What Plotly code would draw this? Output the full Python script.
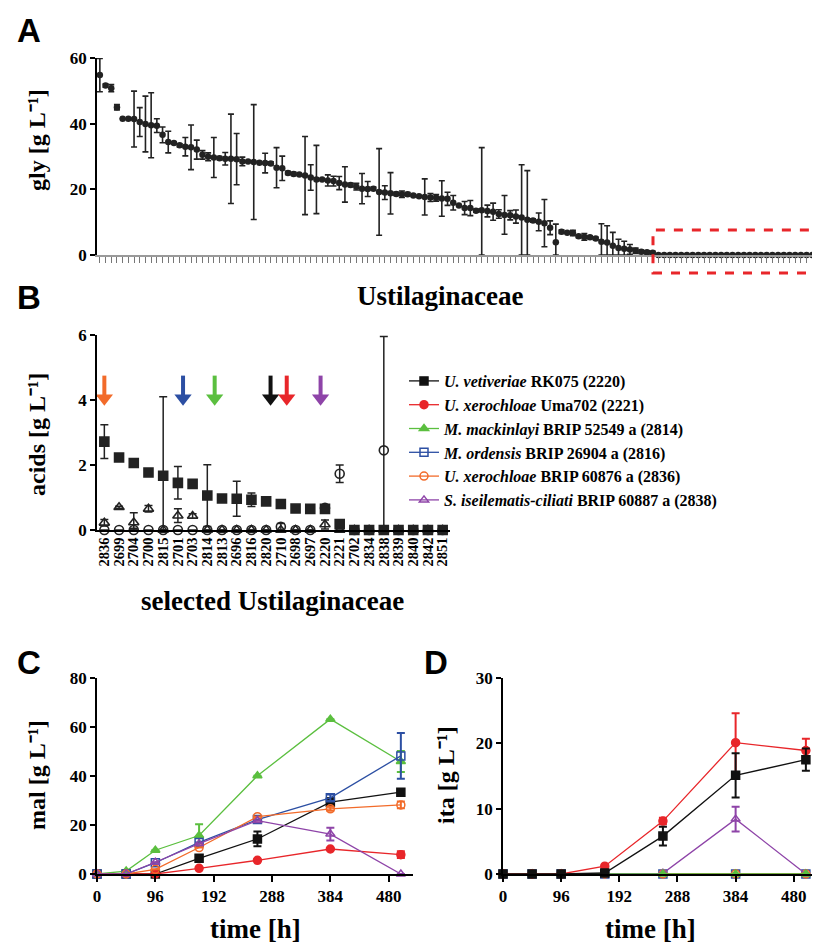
import plotly.graph_objects as go

# page body adds an 8px offset; the figure fills the rest of the 820x949 window
OFF = 8
W, H = 820 - OFF, 949 - OFF

# ---------------- Panel A: glycerol of all Ustilaginaceae ----------------
gly = [54.8, 51.6, 50.8, 45.0, 41.5, 41.5, 41.4, 40.5, 39.9, 39.5,
       39.4, 36.6, 34.4, 34.1, 33.4, 33.0, 32.8, 32.1, 30.5, 29.9,
       29.7, 29.5, 29.3, 29.3, 29.2, 28.5, 28.5, 28.3, 28.1, 28.0,
       27.9, 26.6, 26.4, 25.0, 24.7, 24.5, 24.2, 23.6, 23.0, 23.0,
       22.7, 22.5, 21.9, 21.5, 21.3, 20.8, 20.2, 20.1, 20.2, 19.2,
       19.0, 18.8, 18.6, 18.5, 18.5, 18.1, 17.9, 17.7, 17.5, 17.4,
       17.2, 17.1, 15.9, 15.1, 14.3, 14.3, 13.5, 13.6, 13.4, 13.2,
       12.5, 12.2, 12.1, 11.7, 11.4, 10.7, 10.5, 10.1, 9.7, 8.3,
       3.9, 7.1, 6.8, 6.7, 5.7, 5.5, 5.4, 5.0, 4.0, 3.8,
       2.8, 2.1, 1.9, 1.7, 1.3, 1.0, 0.8, 0.7,
       0, 0, 0, 0, 0, 0, 0, 0, 0, 0, 0, 0, 0, 0,
       0, 0, 0, 0, 0, 0, 0, 0, 0, 0, 0, 0, 0, 0]
gly_err = [5.1, 0.5, 1.1, 0.8, 0, 0, 8.5, 4.4, 8.5, 9.9,
           2.1, 2.4, 3.3, 0.3, 0.5, 2.8, 6.8, 2.9, 1.3, 1.2,
           6.1, 0.5, 1.9, 13.6, 7.8, 1.3, 0, 17.5, 0, 3.0,
           0.5, 6.1, 3.7, 0.5, 0.5, 0, 11.9, 3.9, 10.4, 0,
           1.7, 1.5, 2.0, 5.4, 0.5, 1.0, 4.6, 2.3, 0.5, 13.2,
           2.1, 6.3, 0.5, 1.0, 0.5, 0, 0, 5.5, 1.2, 1.0,
           5.4, 2.0, 2.2, 0, 2.0, 2.3, 0.5, 19.1, 1.8, 2.6,
           1.3, 5.9, 1.4, 2.0, 16.1, 15.0, 0.5, 2.7, 7.2, 2.1,
           5.5, 0.5, 0, 0.8, 0.4, 1.0, 0.4, 0.4, 5.5, 5.1,
           4.1, 2.7, 2.3, 1.5, 0.8, 0.5, 0.5, 0.4,
           0, 0, 0, 0, 0, 0, 0, 0, 0, 0, 0, 0, 0, 0,
           0, 0, 0, 0, 0, 0, 0, 0, 0, 0, 0, 0, 0, 0]
gly_ticks = [0, 20, 40, 60]

# ---------------- Panel B: acids of selected strains ----------------
strains_b = ["2836", "2699", "2704", "2700", "2815", "2701", "2703", "2814",
             "2813", "2696", "2816", "2820", "2710", "2698", "2697", "2220",
             "2221", "2702", "2834", "2838", "2839", "2840", "2842", "2851"]
acid_sq = [2.72, 2.23, 2.06, 1.77, 1.67, 1.45, 1.42, 1.06, 0.97, 0.96, 0.93, 0.88,
           0.80, 0.66, 0.65, 0.65, 0.18, 0, 0, 0, 0, 0, 0, 0]
acid_sq_err = [0.52, 0, 0, 0, 2.43, 0.5, 0, 0.95, 0, 0.54, 0.21, 0.12,
               0.07, 0, 0, 0.04, 0, 0, 0, 0, 0, 0, 0, 0]
acid_circ = [0, 0, 0, 0, 0, 0, 0, 0, 0, 0, 0, 0,
             0.10, 0, 0, 0.68, 1.73, 0, 0, 2.45, 0, 0, 0, 0]
acid_circ_err = [0, 0, 0.05, 0, 0, 0, 0, 0, 0, 0, 0, 0,
                 0.10, 0, 0, 0.03, 0.27, 0, 0, 3.5, 0, 0, 0, 0]
acid_tri = [0.22, 0.70, 0.23, 0.65, 0, 0.44, 0.43, 0, 0, 0, 0, 0,
            0, 0, 0, 0.17, 0, 0, 0, 0, 0, 0, 0, 0]
acid_tri_err = [0.10, 0.03, 0.30, 0.10, 0, 0.21, 0.07, 0, 0, 0, 0, 0,
                0, 0, 0, 0.14, 0, 0, 0, 0, 0, 0, 0, 0]
acid_ticks = [0, 2, 4, 6]
arrow_pos = [0.0, 5.35, 7.5, 11.3, 12.4, 14.7]
arrow_colors = ["#f26b2a", "#2c4fa3", "#5bbf3f", "#111111", "#e8262a", "#8e44a8"]
arrow_top = 4.75
arrow_head = 4.05

# ---------------- Panels C/D: production kinetics ----------------
time_h = [0, 48, 96, 168, 264, 384, 500]
time_ticks = [0, 96, 192, 288, 384, 480]
names = ["<i>U. vetiveriae</i> RK075 (2220)",
         "<i>U. xerochloae</i> Uma702 (2221)",
         "<i>M. mackinlayi</i> BRIP 52549 a (2814)",
         "<i>M. ordensis</i> BRIP 26904 a (2816)",
         "<i>U. xerochloae</i> BRIP 60876 a (2836)",
         "<i>S. iseilematis-ciliati</i> BRIP 60887 a (2838)"]
colors = ["#111111", "#e8262a", "#5bbf3f", "#2c4fa3", "#f26b2a", "#8e44a8"]
symbols = ["square", "circle", "triangle-up", "square-open", "circle-open", "triangle-up-open"]

mal_2220 = [0, 0, 0, 6.4, 14.3, 29.3, 33.4]
mal_2220_err = [0, 0, 0, 0, 3.0, 1.6, 0.8]
mal_2221 = [0, 0, 0, 2.3, 5.6, 10.2, 7.9]
mal_2221_err = [0, 0, 0, 0, 0, 0, 1.4]
mal_2814 = [0, 1.2, 9.7, 15.7, 40.1, 63.2, 45.9]
mal_2814_err = [0, 0, 0, 4.6, 0, 0, 4.3]
mal_2816 = [0, 0, 4.6, 12.9, 22.2, 31.1, 48.2]
mal_2816_err = [0, 0, 0, 0, 0, 1.3, 9.3]
mal_2836 = [0, 0, 1.9, 10.8, 23.4, 26.6, 28.2]
mal_2836_err = [0, 0, 0, 0, 0, 0.8, 1.4]
mal_2838 = [0, 0, 4.8, 12.4, 21.8, 16.3, 0]
mal_2838_err = [0, 0, 0, 0, 0, 2.6, 0]
mal_ticks = [0, 20, 40, 60, 80]

ita_2220 = [0, 0, 0, 0.15, 5.8, 15.1, 17.5]
ita_2220_err = [0, 0, 0, 0, 1.45, 3.4, 1.7]
ita_2221 = [0, 0, 0, 1.2, 8.1, 20.1, 18.9]
ita_2221_err = [0, 0, 0, 0, 0.5, 4.5, 1.8]
ita_2814 = [0, 0, 0, 0, 0, 0, 0]
ita_2814_err = [0, 0, 0, 0, 0, 0, 0]
ita_2816 = [0, 0, 0, 0, 0, 0, 0]
ita_2816_err = [0, 0, 0, 0, 0, 0, 0]
ita_2836 = [0, 0, 0, 0, 0, 0, 0]
ita_2836_err = [0, 0, 0, 0, 0, 0, 0]
ita_2838 = [0, 0, 0, 0, 0.1, 8.4, 0]
ita_2838_err = [0, 0, 0, 0, 0, 1.9, 0]
ita_ticks = [0, 10, 20, 30]

mal_series = [(mal_2220, mal_2220_err), (mal_2221, mal_2221_err), (mal_2814, mal_2814_err),
              (mal_2816, mal_2816_err), (mal_2836, mal_2836_err), (mal_2838, mal_2838_err)]
ita_series = [(ita_2220, ita_2220_err), (ita_2221, ita_2221_err), (ita_2814, ita_2814_err),
              (ita_2816, ita_2816_err), (ita_2836, ita_2836_err), (ita_2838, ita_2838_err)]

# ---------------- helpers ----------------
SERIF = "Liberation Serif"


def px_x(p):
    return (p - OFF) / W


def px_y(p):
    return 1 - (p - OFF) / H


def err(vals, errs, color, thick=1.5, width=3):
    return dict(type="data", symmetric=False, array=errs,
                arrayminus=[min(e, v) for v, e in zip(vals, errs)],
                color=color, thickness=thick, width=width, visible=True)


fig = go.Figure()

# Panel A
a_idx = list(range(len(gly)))
fig.add_trace(go.Scatter(x=a_idx, y=gly, mode="markers", xaxis="x", yaxis="y",
                         marker=dict(symbol="circle", size=6.5, color="#222222"),
                         error_y=err(gly, gly_err, "#222222", 1.6, 3),
                         showlegend=False, cliponaxis=False))

# Panel B
b_idx = list(range(len(strains_b)))
for vals, errs, sym in [(acid_sq, acid_sq_err, "square"),
                        (acid_circ, acid_circ_err, "circle-open"),
                        (acid_tri, acid_tri_err, "triangle-up-open")]:
    fig.add_trace(go.Scatter(x=b_idx, y=vals, mode="markers", xaxis="x2", yaxis="y2",
                             marker=dict(symbol=sym, size=9, color="#222222",
                                         line=dict(width=1.6, color="#222222")),
                             error_y=err(vals, errs, "#222222", 1.5, 4),
                             showlegend=False, cliponaxis=False))

# arrows in panel B (shaft + triangular head)
for xpos, col in zip(arrow_pos, arrow_colors):
    fig.add_trace(go.Scatter(x=[xpos, xpos], y=[arrow_top, arrow_head + 0.1], mode="lines",
                             xaxis="x2", yaxis="y2", line=dict(color=col, width=4),
                             showlegend=False, hoverinfo="skip"))
    fig.add_trace(go.Scatter(x=[xpos], y=[arrow_head], mode="markers",
                             xaxis="x2", yaxis="y2",
                             marker=dict(symbol="triangle-down", size=15, color=col,
                                         line=dict(width=0)),
                             showlegend=False, hoverinfo="skip"))

# Panels C and D
draw_order_c = [0, 1, 2, 3, 4, 5]
for i in draw_order_c:
    vals, errs = mal_series[i]
    fig.add_trace(go.Scatter(x=time_h, y=vals, mode="lines+markers", xaxis="x3", yaxis="y3",
                             name=names[i], legendrank=i + 1,
                             line=dict(color=colors[i], width=1.3),
                             marker=dict(symbol=symbols[i], size=8, color=colors[i],
                                         line=dict(width=1.5, color=colors[i])),
                             error_y=err(vals, errs, colors[i], 2, 4),
                             cliponaxis=False))
draw_order_d = [3, 4, 5, 2, 1, 0]
for i in draw_order_d:
    vals, errs = ita_series[i]
    fig.add_trace(go.Scatter(x=time_h, y=vals, mode="lines+markers", xaxis="x4", yaxis="y4",
                             name=names[i], showlegend=False,
                             line=dict(color=colors[i], width=1.3),
                             marker=dict(symbol=symbols[i], size=8, color=colors[i],
                                         line=dict(width=1.5, color=colors[i])),
                             error_y=err(vals, errs, colors[i], 2, 4),
                             cliponaxis=False))

tickfont = dict(family=SERIF, size=17, color="black", weight="bold")
axis_common = dict(showgrid=False, zeroline=False, showline=True, linecolor="black",
                   linewidth=1.5, ticks="outside", tickwidth=1.5, ticklen=5,
                   tickcolor="black", tickfont=tickfont, automargin=False)

# domains (reference pixel -> paper)
xa_dom = [px_x(97), px_x(818)]
ya_dom = [px_y(255), px_y(58)]
xb_dom = [px_x(97), px_x(450)]
yb_dom = [px_y(530), px_y(335)]
xc_dom = [px_x(97), px_x(413)]
yc_dom = [px_y(874), px_y(678)]
xd_dom = [px_x(503), px_x(818)]
yd_dom = [px_y(874), px_y(678)]

a_range = [-0.5, len(gly) + 0.0]

fig.update_layout(
    width=W, height=H, margin=dict(l=0, r=0, t=0, b=0, autoexpand=False),
    plot_bgcolor="white", paper_bgcolor="white",
    xaxis=dict(axis_common, domain=xa_dom, range=a_range, anchor="y",
               tickvals=a_idx, showticklabels=False, linecolor="#9a9a9a",
               tickcolor="#777777", ticklen=6, tickwidth=1.2),
    yaxis=dict(axis_common, domain=ya_dom, range=[0, 60], anchor="x", tickvals=gly_ticks),
    xaxis2=dict(axis_common, domain=xb_dom, range=[-0.5, len(strains_b) - 0.5], anchor="y2",
                tickvals=b_idx, ticktext=strains_b, tickangle=-90, ticks="",
                tickfont=dict(family=SERIF, size=14.5, color="black", weight="bold")),
    yaxis2=dict(axis_common, domain=yb_dom, range=[0, 6], anchor="x2", tickvals=acid_ticks),
    xaxis3=dict(axis_common, domain=xc_dom, range=[0, 520], anchor="y3", tickvals=time_ticks,
                ticklen=6),
    yaxis3=dict(axis_common, domain=yc_dom, range=[0, 80], anchor="x3", tickvals=mal_ticks),
    xaxis4=dict(axis_common, domain=xd_dom, range=[0, 520], anchor="y4", tickvals=time_ticks,
                ticklen=6),
    yaxis4=dict(axis_common, domain=yd_dom, range=[0, 30], anchor="x4", tickvals=ita_ticks),
    legend=dict(x=px_x(404), y=px_y(364), xanchor="left", yanchor="top",
                font=dict(family=SERIF, size=16, color="black", weight="bold"),
                bgcolor="rgba(0,0,0,0)", tracegroupgap=0, itemwidth=30),
)


# dashed red box around non-producers in panel A
def a_paper_x(v):
    return xa_dom[0] + (v - a_range[0]) / (a_range[1] - a_range[0]) * (xa_dom[1] - xa_dom[0])


def a_paper_y(v):
    return ya_dom[0] + v / 60 * (ya_dom[1] - ya_dom[0])


first_zero = next(i for i, v in enumerate(gly) if v == 0 and all(g == 0 for g in gly[i:]))
fig.add_shape(type="rect", xref="paper", yref="paper",
              x0=a_paper_x(first_zero - 0.95), x1=a_paper_x(len(gly) - 0.1),
              y0=a_paper_y(-5.5), y1=a_paper_y(7.6),
              line=dict(color="#e8262a", width=3, dash="dash"))

# text: panel letters and axis titles
letter_font = dict(family="Liberation Sans", size=33, color="black", weight="bold")
for txt, x, y in [("A", 29, 30), ("B", 29, 297), ("C", 29, 662), ("D", 436, 662)]:
    fig.add_annotation(x=px_x(x), y=px_y(y), xref="paper", yref="paper", text=txt,
                       showarrow=False, font=letter_font, xanchor="center", yanchor="middle")

ytitle_font = dict(family=SERIF, size=24, color="black", weight="bold")
xtitle_font = dict(family=SERIF, size=27, color="black", weight="bold")
for txt, x, y in [("gly [g L⁻¹]", 37, 140),
                  ("acids [g L⁻¹]", 37, 435),
                  ("mal [g L⁻¹]", 37, 775),
                  ("ita [g L⁻¹]", 446, 775)]:
    fig.add_annotation(x=px_x(x), y=px_y(y), xref="paper", yref="paper", text=txt,
                       textangle=-90, showarrow=False, font=ytitle_font,
                       xanchor="center", yanchor="middle")
for txt, x, y in [("Ustilaginaceae", 440, 296),
                  ("selected Ustilaginaceae", 272, 601),
                  ("time [h]", 255, 929),
                  ("time [h]", 650, 929)]:
    fig.add_annotation(x=px_x(x), y=px_y(y), xref="paper", yref="paper", text=txt,
                       showarrow=False, font=xtitle_font, xanchor="center", yanchor="middle")

fig.write_html("out.html")
